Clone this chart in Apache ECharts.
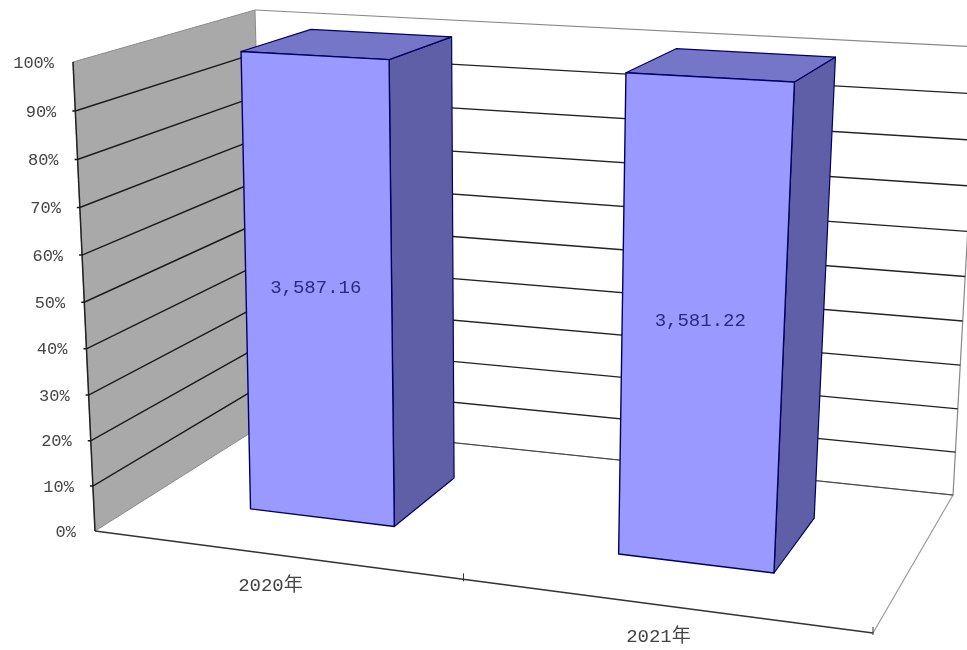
<!DOCTYPE html>
<html><head><meta charset="utf-8">
<style>html,body{margin:0;padding:0;background:#fff}#c{width:967px;height:650px}</style>
<script src="https://cdn.jsdelivr.net/npm/echarts@6/dist/echarts.min.js"></script>
</head><body><div id="c"></div>
<script>
const categories = ['2020年','2021年'];
const shareValues = [100,100];
const barLabels = ['3,587.16','3,581.22'];
const percentTicks = [0,10,20,30,40,50,60,70,80,90,100];

function homography(p){
  const [p0,p1,p2,p3]=p;
  const dx1=p1[0]-p2[0],dx2=p3[0]-p2[0],sx=p0[0]-p1[0]+p2[0]-p3[0];
  const dy1=p1[1]-p2[1],dy2=p3[1]-p2[1],sy=p0[1]-p1[1]+p2[1]-p3[1];
  const det=dx1*dy2-dx2*dy1;
  const g=(sx*dy2-dx2*sy)/det,h=(dx1*sy-sx*dy1)/det;
  const a=p1[0]-p0[0]+g*p1[0],b=p3[0]-p0[0]+h*p3[0],c=p0[0];
  const d=p1[1]-p0[1]+g*p1[1],e=p3[1]-p0[1]+h*p3[1],f=p0[1];
  return (u,v)=>{const q=g*u+h*v+1;return [(a*u+b*v+c)/q,(d*u+e*v+f)/q];};
}
const floor = homography([[95,531],[873,633],[953,495],[266,423]]);
const ceil  = homography([[73,62],[896,109],[978,47],[255,10]]);
const K=0.05;
const bow=u=>Math.sin(Math.PI*u)**2;
function P(u,w,t){
  const a=floor(u+0.0113*bow(u),w),b=ceil(u-0.0095*bow(u),w),s=t/(1+K*(1-t));
  return [a[0]+(b[0]-a[0])*s,a[1]+(b[1]-a[1])*s];
}
const W=967,H=650;
const BAR_HALF=0.10,W0=0.29,W1=0.705;

const chart=echarts.init(document.getElementById('c'),null,{renderer:'canvas'});
const tOf=(api,v)=>1-api.coord([0,v])[1]/H;
const uOf=(api,i)=>api.coord([i,0])[0]/W;
const poly=(pts,fill,stroke,lw)=>({type:'polygon',shape:{points:pts},style:{fill:fill,stroke:stroke,lineWidth:lw,lineJoin:'round'}});
const line=(pts,stroke,lw)=>({type:'polyline',shape:{points:pts},style:{fill:null,stroke:stroke,lineWidth:lw}});
const FONT='17px "Liberation Mono","Noto Sans CJK SC",monospace';

chart.setOption({
  animation:false,
  grid:{left:0,right:0,top:0,bottom:0},
  xAxis:{type:'category',data:categories,show:false},
  yAxis:{type:'value',min:0,max:100,interval:10,show:false},
  series:[
   {type:'custom',z:1,silent:true,clip:false,data:[[0,0]],renderItem:(p,api)=>{
     const t0=tOf(api,0),t1=tOf(api,100);
     const ch=[
       line([P(0,1,t0),P(1,1,t0),P(1,1,t1),P(0,1,t1)],'#888',1.2),
       poly([P(0,0,t0),P(0,1,t0),P(0,1,t1),P(0,0,t1)],'#a9a9a9','#8a8a8a',1),
       line([P(0,0,t0),P(0,0,t1)],'#222',1.5),
       line([P(0,0,t0),P(1,0,t0)],'#333',1.6),
       line([P(1,0,t0),P(1,1,t0)],'#999',1.2),
       line([P(0,1,t0),P(1,1,t0)],'#444',1.2),
     ];
     [0.5,1].forEach(u=>{const a=P(u,0,t0);ch.push(line([[a[0],a[1]-6],[a[0],a[1]+2]],'#333',1));});
     return {type:'group',children:ch};
   }},
   {type:'custom',z:2,silent:true,clip:false,data:percentTicks.map(v=>[0,v]),renderItem:(p,api)=>{
     const v=api.value(1),t=tOf(api,v),a=P(0,0,t),b=P(0,1,t),c=P(1,1,t);
     const ch=[{type:'text',style:{text:v+'%',x:a[0]-19,y:a[1]+1,align:'right',verticalAlign:'middle',font:FONT,fill:'#444'}}];
     if(v>0&&v<100){ch.push(line([[a[0]-3,a[1]],a,b],'#1a1a1a',1.5));ch.push(line([b,c],'#222',1.4));}
     return {type:'group',children:ch};
   }},
   {type:'custom',z:3,silent:true,clip:false,
    data:shareValues.map((v,i)=>[i,v]),
    renderItem:(p,api)=>{
     const i=api.value(0),uc=uOf(api,i),t=tOf(api,api.value(1)),t0=tOf(api,0);
     const u0=uc-BAR_HALF,u1=uc+BAR_HALF;
     const E='#000060';
     const fc=[P(u0,W0,t0),P(u1,W0,t0),P(u1,W0,t),P(u0,W0,t)];
     const ctr=[(fc[0][0]+fc[1][0]+fc[2][0]+fc[3][0])/4,(fc[0][1]+fc[1][1]+fc[2][1]+fc[3][1])/4];
     const lab=P(uc,0,t0);
     return {type:'group',children:[
       poly([P(u1,W0,t0),P(u1,W1,t0),P(u1,W1,t),P(u1,W0,t)],'#5f5fa8',E,1.2),
       poly([P(u0,W0,t),P(u1,W0,t),P(u1,W1,t),P(u0,W1,t)],'#7676c9',E,1.2),
       poly(fc,'#9999ff',E,1.4),
       {type:'text',style:{text:barLabels[i],x:ctr[0]-3,y:ctr[1]+1,align:'center',verticalAlign:'middle',font:'19px "Liberation Mono",monospace',fill:'#2a2a80'}},
       {type:'text',style:{text:categories[i],x:lab[0]-2,y:lab[1]+32,align:'center',verticalAlign:'middle',font:'19px "Liberation Mono","Noto Sans CJK SC",monospace',fill:'#444'}}
     ]};
   }}
  ]
});
</script></body></html>
